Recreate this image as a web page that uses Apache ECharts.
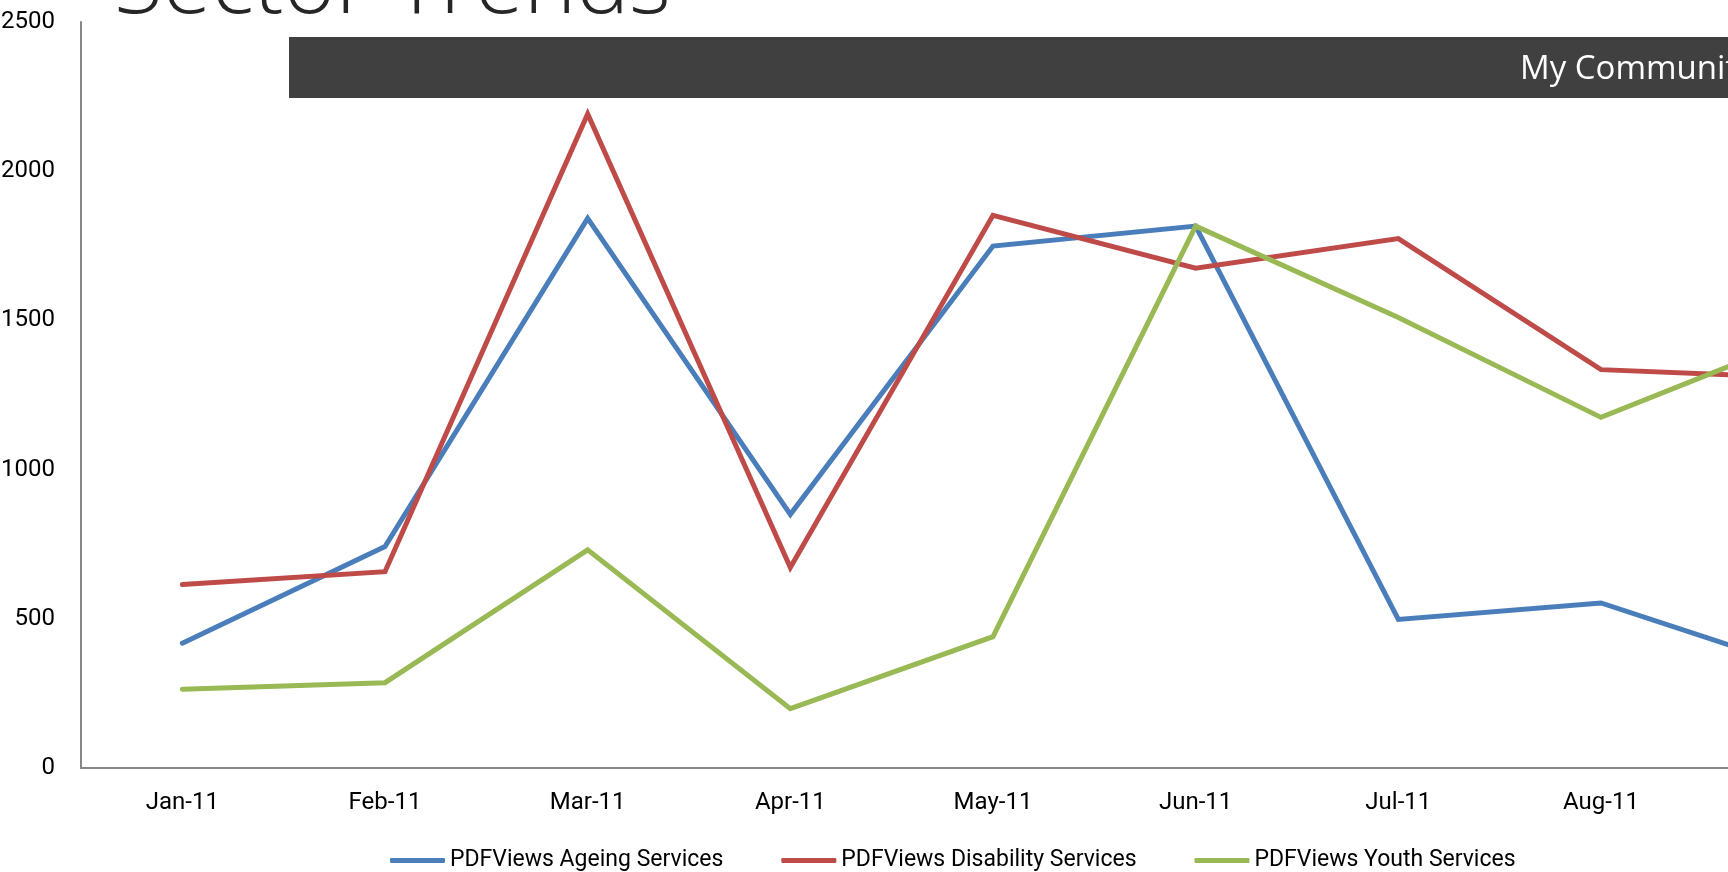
<!DOCTYPE html>
<html>
<head>
<meta charset="utf-8">
<script src="https://cdn.jsdelivr.net/npm/echarts@6/dist/echarts.min.js"></script>
<style>
html,body{margin:0;padding:0;background:#ffffff;overflow:hidden}
#chart{width:1728px;height:872px}
</style>
</head>
<body>
<div id="chart"></div>
<script>
// ---- data ----
const months = ['Jan-11','Feb-11','Mar-11','Apr-11','May-11','Jun-11','Jul-11','Aug-11','Sep-11'];
const ageingServices     = [418, 742, 1842, 850, 1749, 1816, 498, 553, 330];
const disabilityServices = [615, 658, 2192, 672, 1852, 1675, 1774, 1335, 1307];
const youthServices      = [264, 286, 731, 199, 440, 1816, 1510, 1175, 1446];
const seriesNames = ['PDFViews Ageing Services','PDFViews Disability Services','PDFViews Youth Services'];
const yMin = 0, yMax = 2500, yStep = 500;
const titleText = 'Sector Trends';
const bannerText = 'My Community';

const colors = ['#4A7EBB', '#BE4B48', '#98B954'];
const axisFont = 'Roboto, "Noto Sans", sans-serif';
const seriesData = [ageingServices, disabilityServices, youthServices];

const chart = echarts.init(document.getElementById('chart'), null, {renderer: 'canvas'});
chart.setOption({
  animation: false,
  backgroundColor: '#ffffff',
  graphic: [
    {
      type: 'text', z: 10,
      style: {
        x: 114, y: -12,
        text: titleText,
        font: '300 89px "Open Sans", "Noto Sans", sans-serif',
        fill: '#262626',
        verticalAlign: 'middle',
        align: 'left'
      }
    },
    {
      type: 'rect', z: 5,
      shape: { x: 289, y: 37, width: 1600, height: 61 },
      style: { fill: '#404040' }
    },
    {
      type: 'text', z: 6,
      style: {
        x: 1520, y: 70,
        text: bannerText,
        font: '33px "Open Sans", "Noto Sans", sans-serif',
        fill: '#ffffff',
        verticalAlign: 'middle',
        align: 'left'
      }
    }
  ],
  grid: { left: 81, top: 22, right: -177, bottom: 104, outerBoundsMode: 'none', containLabel: false },
  legend: {
    data: seriesNames,
    left: 390,
    top: 849,
    padding: 0,
    icon: 'roundRect',
    itemWidth: 55,
    itemHeight: 5,
    itemGap: 58,
    textStyle: { fontFamily: axisFont, fontSize: 23, color: '#000000' }
  },
  xAxis: {
    type: 'category',
    data: months,
    boundaryGap: true,
    axisLine: { show: true, lineStyle: { color: '#868686', width: 2 } },
    axisTick: { show: false },
    axisLabel: { fontFamily: axisFont, fontSize: 24, color: '#000000', margin: 23 },
    splitLine: { show: false }
  },
  yAxis: {
    type: 'value',
    min: yMin, max: yMax, interval: yStep,
    axisLine: { show: true, lineStyle: { color: '#868686', width: 2 } },
    axisTick: { show: false },
    axisLabel: { fontFamily: axisFont, fontSize: 24, color: '#000000', margin: 26,
                 formatter: (v) => String(v) },
    splitLine: { show: false }
  },
  series: seriesNames.map((name, i) => ({
    name: name,
    type: 'line',
    data: seriesData[i],
    symbol: 'none',
    showSymbol: false,
    lineStyle: { width: 5, color: colors[i], cap: 'round', join: 'miter' },
    itemStyle: { color: colors[i] },
    z: 3
  }))
});
</script>
</body>
</html>
